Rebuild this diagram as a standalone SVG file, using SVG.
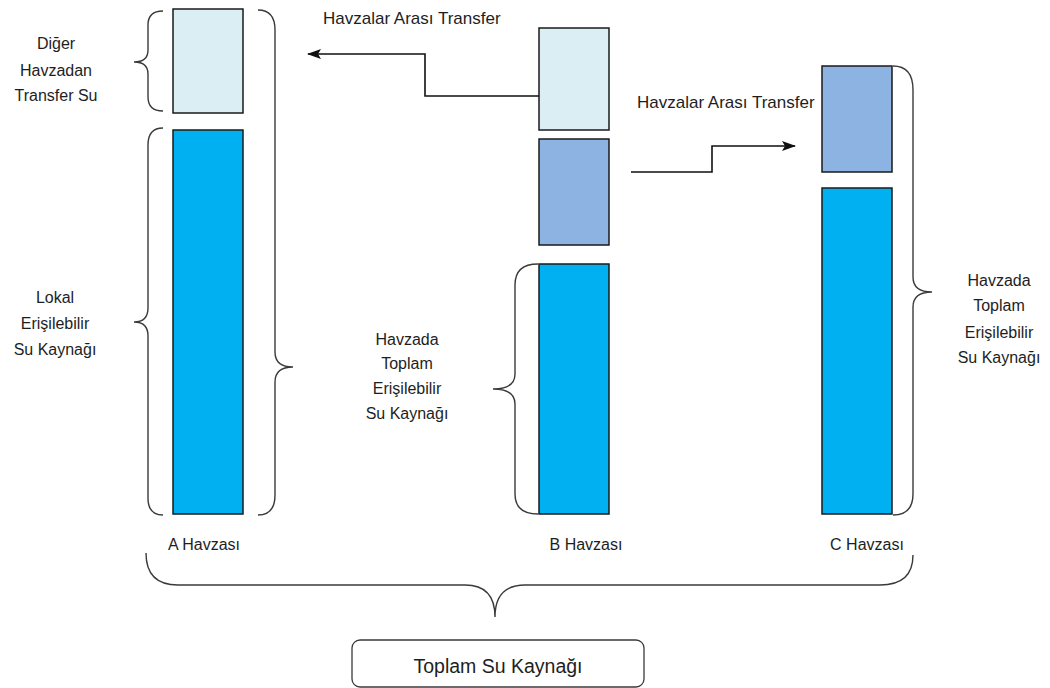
<svg xmlns="http://www.w3.org/2000/svg" width="1050" height="688" viewBox="0 0 1050 688">
<style>
  .lbl { font-family: "Liberation Sans", Arial, sans-serif; font-size: 16px; fill: #1e1e1e; text-anchor: middle; }
  .tr { font-family: "Liberation Sans", Arial, sans-serif; font-size: 17px; fill: #1e1e1e; }
  .light { fill: #DAEEF3; stroke: #1a1a1a; stroke-width: 1.5; }
  .mid { fill: #8DB3E2; stroke: #1a1a1a; stroke-width: 1.5; }
  .blue { fill: #00B0F0; stroke: #1a1a1a; stroke-width: 1.5; }
  .brace { fill: none; stroke: #3a3a3a; stroke-width: 1.4; }
  .conn { fill: none; stroke: #111; stroke-width: 1.6; }
</style>
<defs>
  <marker id="arr" markerWidth="14" markerHeight="12" refX="13" refY="6" orient="auto" markerUnits="userSpaceOnUse">
    <path d="M0,1 L14,6 L0,11 L3,6 Z" fill="#111"/>
  </marker>
</defs>
<rect width="1050" height="688" fill="#ffffff"/>

<g id="havza-a">
  <rect class="light" x="173" y="9" width="70" height="104"/>
  <rect class="blue" x="173" y="130" width="70" height="384"/>
  <path class="brace" d="M163,11 Q148,11 148,25 L148,50 Q148,62 134,62 Q148,62 148,74 L148,97 Q148,111 163,111"/>
  <path class="brace" d="M163,128 Q148,128 148,145 L148,308 Q148,322 134,322 Q148,322 148,336 L148,498 Q148,515 163,515"/>
  <path class="brace" d="M258,10 Q275,10 275,30 L275,352 Q275,367 293,367 Q275,367 275,382 L275,495 Q275,515 258,515"/>
  <text class="lbl" x="56" y="49">Diğer</text>
  <text class="lbl" x="56" y="76">Havzadan</text>
  <text class="lbl" x="56" y="101">Transfer Su</text>
  <text class="lbl" x="55" y="303">Lokal</text>
  <text class="lbl" x="55" y="329">Erişilebilir</text>
  <text class="lbl" x="55" y="355">Su Kaynağı</text>
  <text class="lbl" x="204" y="550">A Havzası</text>
</g>

<g id="havza-b">
  <rect class="light" x="539" y="28" width="70" height="102"/>
  <rect class="mid" x="539" y="139" width="70" height="106"/>
  <rect class="blue" x="539" y="264" width="70" height="250"/>
  <path class="brace" d="M538,264 Q515,264 515,285 L515,374 Q515,389 493,389 Q515,389 515,404 L515,494 Q515,514 538,514"/>
  <text class="lbl" x="407" y="345">Havzada</text>
  <text class="lbl" x="407" y="369">Toplam</text>
  <text class="lbl" x="407" y="394">Erişilebilir</text>
  <text class="lbl" x="407" y="419">Su Kaynağı</text>
  <text class="lbl" x="586" y="550">B Havzası</text>
</g>

<g id="havza-c">
  <rect class="mid" x="822" y="66" width="70" height="106"/>
  <rect class="blue" x="822" y="188" width="70" height="326"/>
  <path class="brace" d="M893,66 Q913,66 913,90 L913,277 Q913,292 932,292 Q913,292 913,307 L913,494 Q913,515 893,515"/>
  <text class="lbl" x="999" y="286">Havzada</text>
  <text class="lbl" x="999" y="311">Toplam</text>
  <text class="lbl" x="999" y="338">Erişilebilir</text>
  <text class="lbl" x="999" y="363">Su Kaynağı</text>
  <text class="lbl" x="867" y="550">C Havzası</text>
</g>

<g id="toplam">
  <path class="brace" d="M146,553 Q146,585 178,585 L465,585 Q495,585 495,617 Q495,585 525,585 L880,585 Q913,585 913,555"/>
  <rect x="352" y="640" width="292" height="47" rx="8" ry="8" fill="#fff" stroke="#3a3a3a" stroke-width="1.3"/>
  <text class="lbl" x="498" y="673" style="font-size:19.5px">Toplam Su Kaynağı</text>
</g>

<g id="connectors">
  <path class="conn" d="M539,96 L425,96 L425,54 L308,54" marker-end="url(#arr)"/>
  <text class="tr" x="323" y="24">Havzalar Arası Transfer</text>
  <path class="conn" d="M631,172 L712,172 L712,146 L795,146" marker-end="url(#arr)"/>
  <text class="tr" x="637" y="108">Havzalar Arası Transfer</text>
</g>
</svg>
